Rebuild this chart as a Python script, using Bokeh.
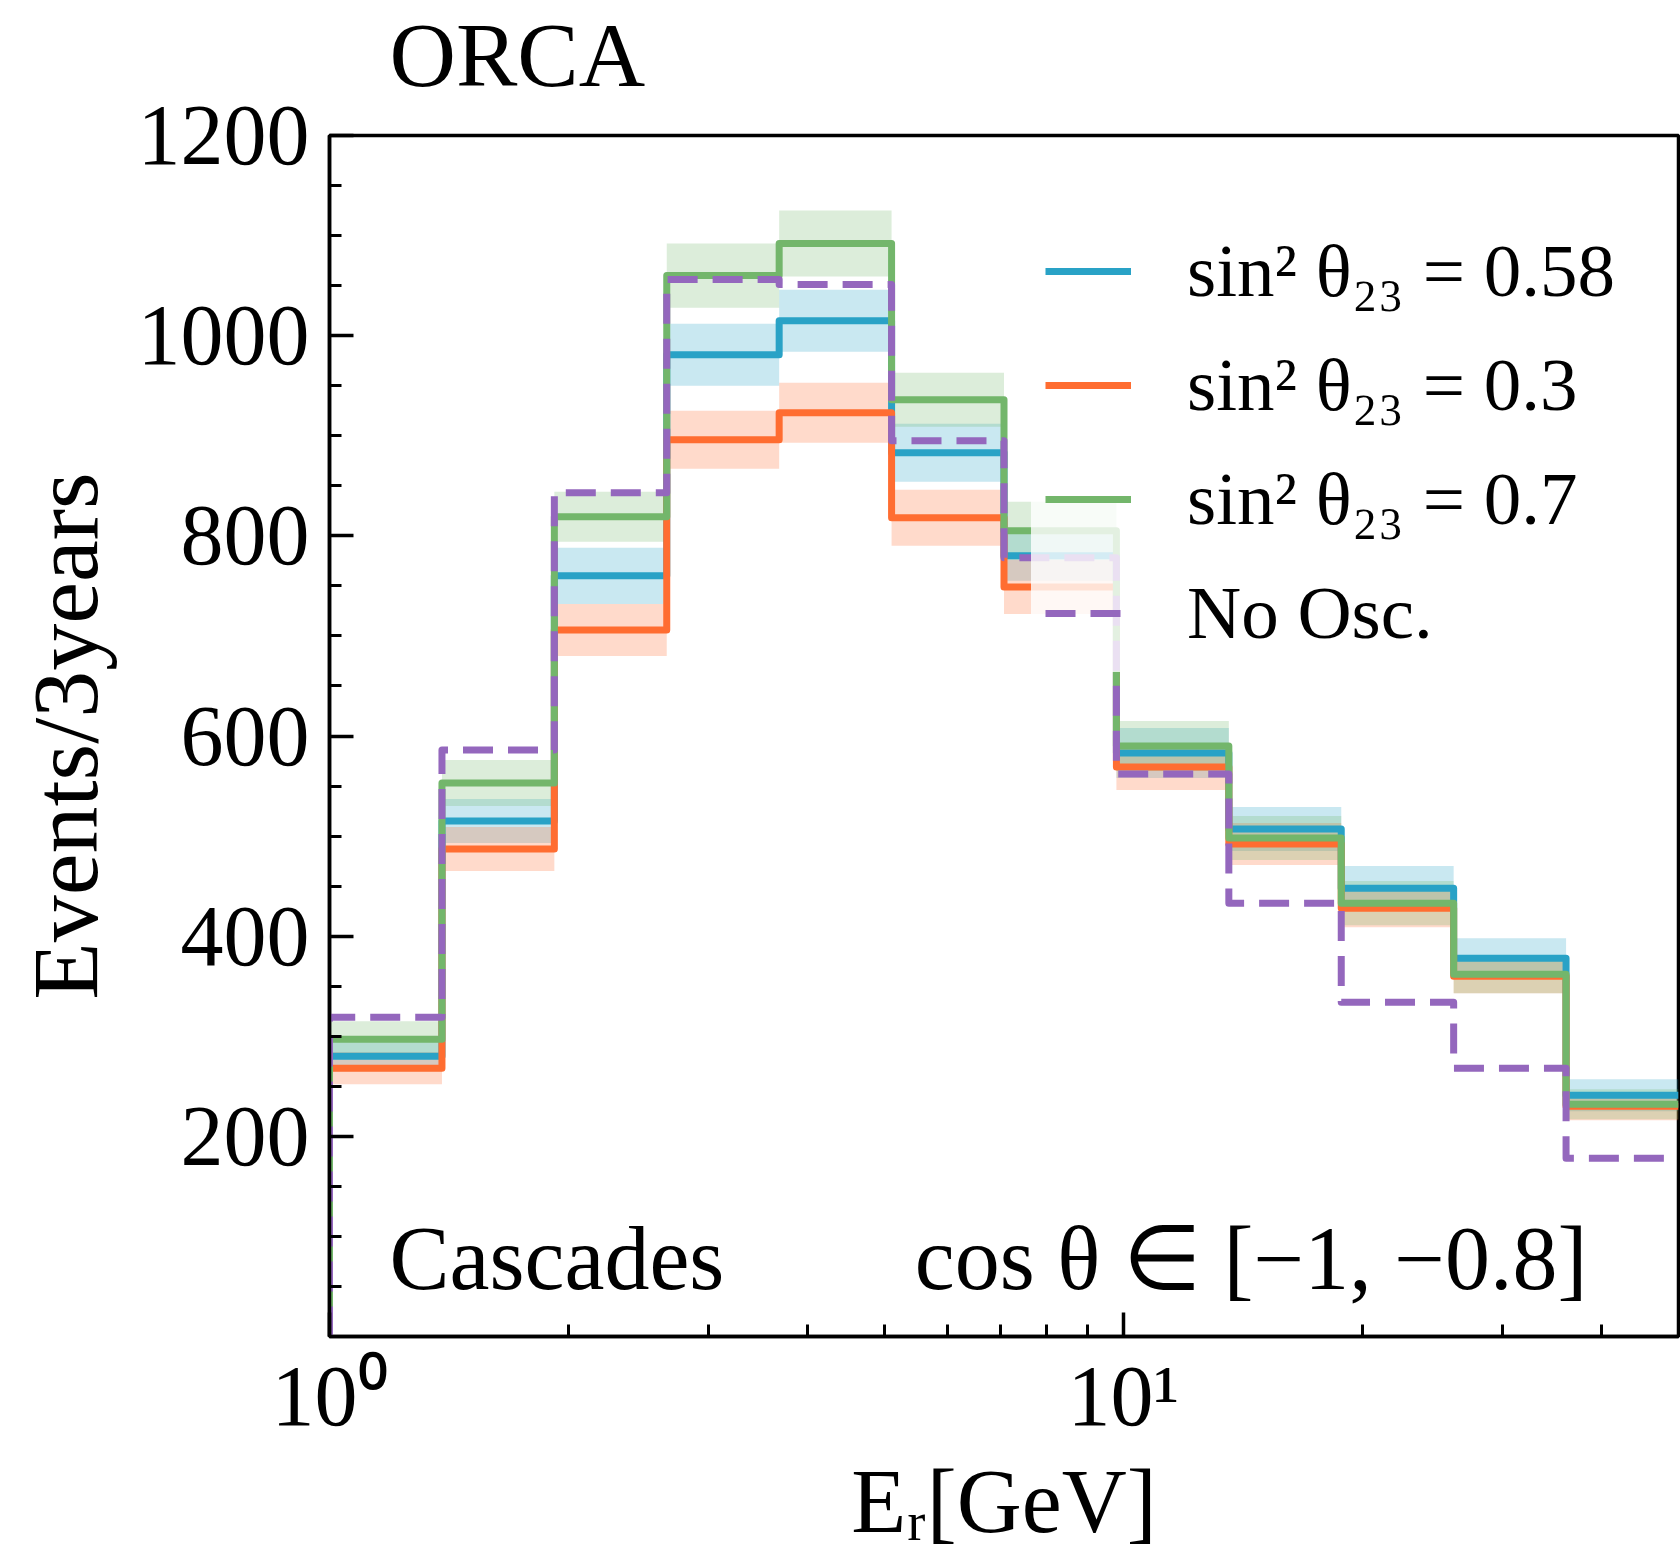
import numpy as np
from bokeh.plotting import figure
from bokeh.models import Range1d, FixedTicker, Legend, LegendItem, Label, Title
from bokeh.embed import file_html
from bokeh.resources import INLINE

# ---- data ----
edges = [1.0, 1.3856, 1.9195, 2.6591, 3.6840, 5.1038, 7.0711, 9.7964,
         13.572, 18.803, 26.049, 36.088, 50.0]

no_osc = [319, 586, 843, 1056, 1051, 895, 778, 562, 433, 334, 268, 178]

s058 = [280, 515, 760, 981, 1015, 883, 780, 583, 507, 448, 378, 241]
s058_err = [15, 22, 28, 31, 31, 29, 25, 25, 22, 22, 20, 16]

s030 = [268, 487, 706, 896, 923, 818, 749, 569, 492, 428, 360, 230]
s030_err = [16, 22, 26, 29, 30, 28, 27, 23, 21, 19, 17, 14]

s070 = [297, 553, 819, 1060, 1092, 936, 805, 590, 498, 433, 362, 232]
s070_err = [18, 23, 25, 32, 33, 27, 29, 25, 22, 22, 19, 15]

labels = ["sin² θ₂₃ = 0.58", "sin² θ₂₃ = 0.3", "sin² θ₂₃ = 0.7", "No Osc."]
x_tick_vals = [1, 10]
x_tick_text = ["10⁰", "10¹"]
x_minor = [2, 3, 4, 5, 6, 7, 8, 9, 20, 30, 40]
y_tick_vals = [200, 400, 600, 800, 1000, 1200]
y_minor = list(range(50, 1200, 50))

BLUE, ORANGE, GREEN, PURPLE = "#29A2C6", "#FF6D31", "#73B66B", "#9467BD"
FONT = "Liberation Serif"

p = figure(width=1680, height=1561, x_axis_type="log",
           x_range=Range1d(1, 50), y_range=Range1d(0, 1200),
           output_backend="svg", toolbar_location=None,
           min_border_left=329, min_border_top=135,
           min_border_bottom=225, min_border_right=2)
p.grid.visible = False
p.background_fill_color = "white"
p.border_fill_color = "white"
p.outline_line_color = "black"
p.outline_line_width = 3.5
p.outline_line_alpha = 1.0

e = np.array(edges, dtype=float)


def step_xy(vals):
    xs = np.repeat(e, 2)[:-1]
    ys = np.concatenate([[0.0], np.repeat(np.array(vals, dtype=float), 2)])
    return xs, ys


# uncertainty bands
for vals, err, col in [(s058, s058_err, BLUE), (s030, s030_err, ORANGE), (s070, s070_err, GREEN)]:
    v = np.array(vals, dtype=float)
    er = np.array(err, dtype=float)
    p.quad(left=e[:-1], right=e[1:], bottom=v - er, top=v + er,
           fill_color=col, fill_alpha=0.25, line_alpha=0)

renderers = []
for vals, col, dash in [(s058, BLUE, "solid"), (s030, ORANGE, "solid"),
                        (s070, GREEN, "solid"), (no_osc, PURPLE, "30 15")]:
    xs, ys = step_xy(vals)
    r = p.line(xs, ys, line_color=col, line_width=7, line_dash=dash,
               line_join="round")
    renderers.append(r)

# axes
p.xaxis.ticker = FixedTicker(ticks=x_tick_vals, minor_ticks=x_minor)
p.xaxis.major_label_overrides = {t: s for t, s in zip(x_tick_vals, x_tick_text)}
p.yaxis.ticker = FixedTicker(ticks=y_tick_vals, minor_ticks=y_minor)

for ax in (p.xaxis[0], p.yaxis[0]):
    ax.major_tick_in = 24
    ax.major_tick_out = 0
    ax.minor_tick_in = 12
    ax.minor_tick_out = 0
    ax.major_tick_line_width = 3.5
    ax.minor_tick_line_width = 3
    ax.major_tick_line_color = "black"
    ax.minor_tick_line_color = "black"
    ax.axis_line_width = 3.5
    ax.axis_line_color = "black"
    ax.major_label_text_font = FONT
    ax.major_label_text_font_size = "86px"
    ax.major_label_text_color = "black"
    ax.axis_label_text_font = FONT
    ax.axis_label_text_font_style = "normal"
    ax.axis_label_text_color = "black"

p.xaxis.axis_label = "Eᵣ[GeV]"
p.yaxis.axis_label = "Events/3years"
p.xaxis.axis_label_text_font_size = "90px"
p.yaxis.axis_label_text_font_size = "94px"
p.xaxis.major_label_standoff = 11
p.xaxis.axis_label_standoff = 5
p.yaxis.major_label_standoff = 20
p.yaxis.axis_label_standoff = 18

# spacer between the frame and the title (keeps the title higher)
p.add_layout(Title(text=" ", text_font_size="1px", standoff=27), "above")

# title
p.title.text = "ORCA"
p.title.text_font = FONT
p.title.text_font_size = "92px"
p.title.text_font_style = "normal"
p.title.text_color = "black"
p.title.align = "left"
p.title.offset = 60
p.title.standoff = 0

# legend
legend = Legend(items=[LegendItem(label=l, renderers=[r]) for l, r in zip(labels, renderers)],
                location=(702, 664))
legend.background_fill_color = "white"
legend.background_fill_alpha = 0.8
legend.border_line_alpha = 0
legend.label_text_font = FONT
legend.label_text_font_size = "75px"
legend.label_text_color = "black"
legend.glyph_width = 86
legend.glyph_height = 90
legend.label_height = 90
legend.spacing = 24
legend.padding = 14
legend.margin = 0
legend.label_standoff = 56
p.add_layout(legend)

# texts inside the frame (data units)
p.add_layout(Label(x=1.19, y=78, text="Cascades",
                   text_font=FONT, text_font_size="90px", text_color="black",
                   text_baseline="alphabetic"))
p.add_layout(Label(x=5.46, y=78, text="cos θ ∈ [−1, −0.8]",
                   text_font=FONT, text_font_size="90px", text_color="black",
                   text_baseline="alphabetic"))

open("out.html", "w").write(file_html(p, INLINE))
